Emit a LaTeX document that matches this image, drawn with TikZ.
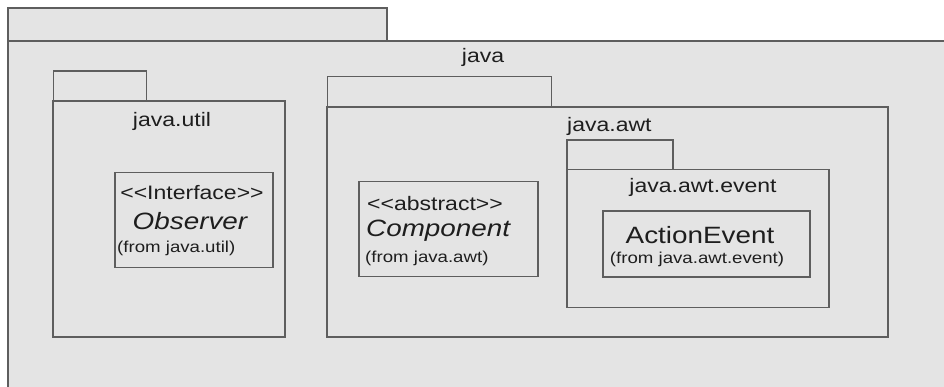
\documentclass[tikz,border=0pt]{standalone}
\usepackage{fontspec}
\usepackage{graphicx}
\setmainfont{Liberation Sans}[Ligatures=TeXOff]
\newcommand{\sx}[1]{\scalebox{1.18}[1]{#1}}
\newcommand{\fsLab}{\fontsize{19.5}{22}\selectfont}
\newcommand{\fsName}{\fontsize{23.6}{26}\selectfont}
\newcommand{\fsFrom}{\fontsize{15.8}{18}\selectfont}
\definecolor{pkgfill}{HTML}{E4E4E4}
\definecolor{pkgline}{HTML}{5E5E5E}
\definecolor{txt}{HTML}{1E1E1E}
\begin{document}
\begin{tikzpicture}[x=1pt,y=-1pt,
  box/.style={draw=pkgline, fill=pkgfill, line width=1.3pt, inner sep=0pt, outer sep=0pt},
  lab/.style={inner sep=0pt, text=txt, font=\fsLab},
  cname/.style={inner sep=0pt, text=txt, font=\fsName\itshape},
  pname/.style={inner sep=0pt, text=txt, font=\fsName},
  fromtxt/.style={inner sep=0pt, text=txt, font=\fsFrom}]
\useasboundingbox (0,0) rectangle (944,387);
\fill[white] (0,0) rectangle (944,387);
\clip (0,0) rectangle (944,387);
% outer package java
\node[box, minimum width=379pt, minimum height=33pt] (javatab) at (197.5,24.5) {};
\node[box, minimum width=960pt, minimum height=360pt] (javabody) at (488,221) {};
\node[lab] (javalab) at (483,57) {\sx{java}};
% java.util
\node[box, minimum width=93pt, minimum height=30pt] (utiltab) at (100,86) {};
\node[box, minimum width=232pt, minimum height=236pt] (utilbody) at (169,219) {};
\node[lab] (utillab) at (172,121) {\sx{java.util}};
\node[box, minimum width=158pt, minimum height=95pt] (observer) at (194,220) {};
\node[lab] (obsster) at (192,193) {\sx{<<Interface>>}};
\node[cname] (obsname) at (190,221) {\sx{Observer}};
\node[fromtxt, anchor=west] (obsfrom) at (117,248) {\sx{(from java.util)}};
% java.awt
\node[box, minimum width=224pt, minimum height=31pt] (awttab) at (439.5,92) {};
\node[box, minimum width=561pt, minimum height=230pt] (awtbody) at (607.5,222) {};
\node[lab, anchor=west] (awtlab) at (567,126) {\sx{java.awt}};
\node[box, minimum width=179pt, minimum height=95pt] (component) at (448.5,229) {};
\node[lab, anchor=west] (compster) at (367,204) {\sx{<<abstract>>}};
\node[cname, anchor=west] (compname) at (366,231) {\sx{Component}};
\node[fromtxt, anchor=west] (compfrom) at (365,258) {\sx{(from java.awt)}};
% java.awt.event
\node[box, minimum width=106pt, minimum height=30pt] (evttab) at (620,155) {};
\node[box, minimum width=262pt, minimum height=138pt] (evtbody) at (698,238.5) {};
\node[lab] (evtlab) at (703,187) {\sx{java.awt.event}};
\node[box, minimum width=207pt, minimum height=66pt] (action) at (706.5,244) {};
\node[pname] (actname) at (700,235) {\sx{ActionEvent}};
\node[fromtxt] (actfrom) at (697,259) {\sx{(from java.awt.event)}};
\end{tikzpicture}
\end{document}
